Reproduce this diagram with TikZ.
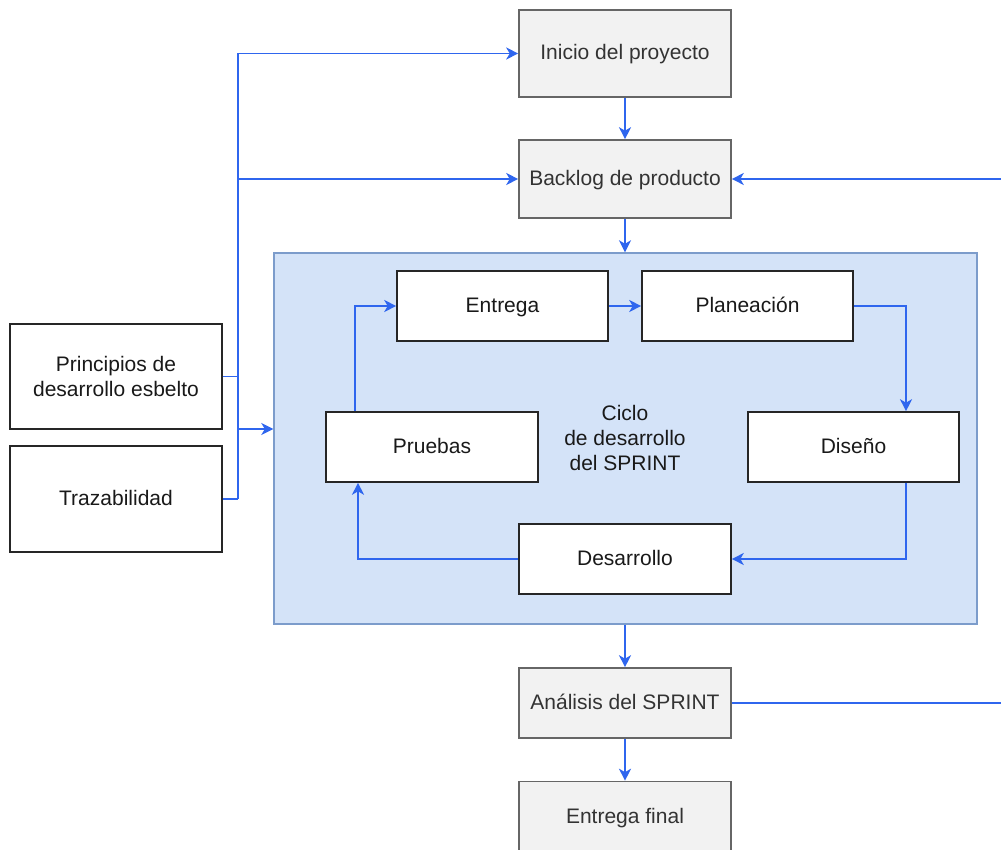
\documentclass[tikz,border=0pt]{standalone}
\usepackage{fontspec}
\setmainfont{Liberation Sans}
\usetikzlibrary{arrows.meta,calc}
\definecolor{conncol}{HTML}{2F66EE}
\definecolor{contfill}{HTML}{D4E3F8}
\definecolor{contdraw}{HTML}{7C9CCB}
\definecolor{greyfill}{HTML}{F2F2F2}
\definecolor{greydraw}{HTML}{666666}
\definecolor{greytext}{HTML}{333333}
\tikzset{
  every node/.style={font=\fontsize{21}{25}\selectfont, align=center, inner sep=0pt},
  oneline/.style={text height=16pt, text depth=3pt},
  greybox/.style={draw=greydraw, fill=greyfill, text=greytext, line width=1.6pt, minimum width=212pt},
  whitebox/.style={draw=black!85, fill=white, text=black!90, line width=1.6pt, minimum width=212pt},
  conn/.style={draw=conncol, line width=1.8pt, -{Stealth[length=12pt,width=12pt,inset=3.5pt]}},
  plainconn/.style={draw=conncol, line width=1.8pt},
}
\begin{document}
\begin{tikzpicture}[x=1pt,y=-1pt]
\useasboundingbox (0,0) rectangle (1001,850);
\clip (0,0) rectangle (1001,850);
% container
\node[draw=contdraw, fill=contfill, line width=1.4pt, minimum width=703pt, minimum height=371pt] (cont) at (625.5,438.5) {};
% outer column
\node[greybox, oneline, minimum height=87pt] (inicio) at (625,53.5) {Inicio del proyecto};
\node[greybox, oneline, minimum height=78pt] (backlog) at (625,179) {Backlog de producto};
\node[greybox, oneline, minimum height=70pt] (analisis) at (625,703) {Análisis del SPRINT};
\node[greybox, oneline, minimum height=70pt] (final) at (625,816.5) {Entrega final};
% left boxes
\node[whitebox, minimum height=105pt] (princ) at (116,376.5) {Principios de\\desarrollo esbelto};
\node[whitebox, oneline, minimum height=106pt] (traz) at (116,499) {Trazabilidad};
% inner boxes
\node[whitebox, oneline, minimum height=70pt, minimum width=211pt] (entrega) at (502.5,306) {Entrega};
\node[whitebox, oneline, minimum height=70pt, minimum width=211pt] (plan) at (747.5,306) {Planeación};
\node[whitebox, oneline, minimum height=70pt] (pruebas) at (432,447) {Pruebas};
\node[whitebox, oneline, minimum height=70pt, minimum width=211pt] (diseno) at (853.5,447) {Diseño};
\node[whitebox, oneline, minimum height=70pt] (desarrollo) at (625,559) {Desarrollo};
\node[text=black!90] (ciclo) at (625,438) {Ciclo\\de desarrollo\\del SPRINT};
% junction coordinates
\coordinate (jx) at (238,0);
\coordinate (jc) at (238,429);
\coordinate (rx) at (1030,0);
\coordinate (px) at (355,0);
\coordinate (dx) at (906,0);
\coordinate (qx) at (358,0);
% main column arrows
\draw[conn] (inicio) -- (backlog);
\draw[conn] (backlog) -- (cont.north -| backlog);
\draw[conn] (cont.south -| analisis) -- (analisis);
\draw[conn] (analisis) -- (final);
% feedback from analysis to backlog
\draw[conn] (analisis.east) -- (analisis.east -| rx) -- (backlog.east -| rx) -- (backlog.east);
% left side
\draw[plainconn] (princ.east) -- (princ.east -| jx);
\draw[plainconn] (traz.east) -- (traz.east -| jx);
\draw[plainconn] (traz.east -| jx) -- (inicio.west -| jx);
\draw[conn] (inicio.west -| jx) -- (inicio.west);
\draw[conn] (backlog.west -| jx) -- (backlog.west);
\draw[conn] (jc) -- (jc -| cont.west);
% inner cycle
\draw[conn] (pruebas.north -| px) -- (entrega.west -| px) -- (entrega.west);
\draw[conn] (entrega) -- (plan);
\draw[conn] (plan.east) -- (plan.east -| dx) -- (diseno.north -| dx);
\draw[conn] (diseno.south -| dx) -- (desarrollo.east -| dx) -- (desarrollo.east);
\draw[conn] (desarrollo.west) -- (desarrollo.west -| qx) -- (pruebas.south -| qx);
\end{tikzpicture}
\end{document}
